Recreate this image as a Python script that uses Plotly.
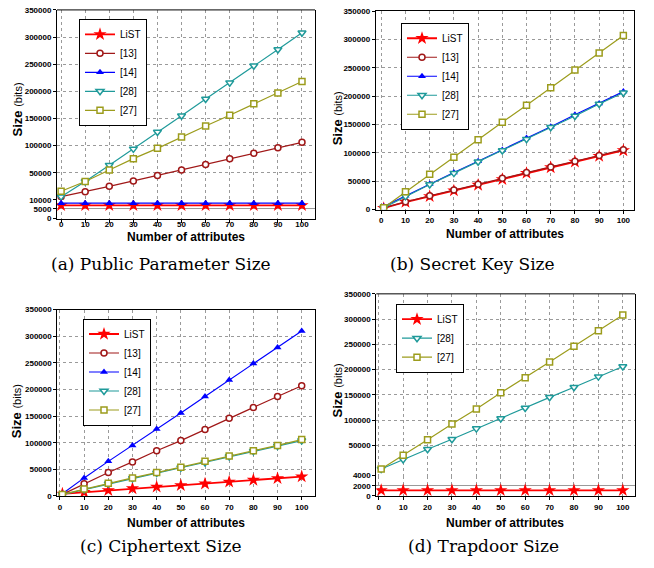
import plotly.graph_objects as go

W, H = 654, 568

# ---------------- data ----------------
attrs_a = [0, 10, 20, 30, 40, 50, 60, 70, 80, 90, 100]
attrs = [1, 10, 20, 30, 40, 50, 60, 70, 80, 90, 100]
x_ticks = [0, 10, 20, 30, 40, 50, 60, 70, 80, 90, 100]

# (a) Public Parameter Size
pp_list = [7000, 7000, 7000, 7000, 7000, 7000, 7000, 7000, 7000, 7000, 7000]
pp_13 = [6000, 15000, 25000, 35000, 45000, 55000, 65000, 76000, 86000, 96000, 106000]
pp_14 = [8200, 8200, 8200, 8200, 8200, 8200, 8200, 8200, 8200, 8200, 8200]
pp_28 = [6000, 34000, 64000, 94000, 125000, 155000, 186000, 216000, 247000, 277000, 308000]
pp_27 = [16000, 34000, 55000, 76000, 95000, 116000, 136000, 156000, 177000, 197000, 218000]

# (b) Secret Key Size
sk_list = [2000, 13000, 23000, 33000, 43000, 53000, 64000, 74000, 84000, 94000, 104000]
sk_13 = [3000, 13500, 24000, 34000, 44500, 55000, 65000, 75000, 85000, 95000, 105500]
sk_14 = [5000, 24000, 45000, 65000, 85000, 105000, 126000, 146000, 167000, 187000, 208000]
sk_28 = [3000, 23000, 44000, 64000, 84000, 104000, 124000, 145000, 165000, 186000, 206000]
sk_27 = [3000, 31000, 62000, 92000, 123000, 154000, 184000, 215000, 246000, 276000, 307000]

# (c) Ciphertext Size
ct_list = [4000, 7000, 10500, 14000, 17000, 20000, 23000, 26500, 30000, 33000, 36500]
ct_13 = [3000, 23000, 44000, 64000, 85000, 104000, 125000, 146000, 166000, 187000, 207000]
ct_14 = [4000, 34000, 65000, 95000, 126000, 156000, 187000, 218000, 249000, 279000, 310000]
ct_28 = [2500, 12000, 23000, 33000, 43000, 53000, 63000, 74000, 84000, 94000, 104000]
ct_27 = [3000, 13000, 24000, 34000, 44000, 54000, 65000, 75000, 85000, 95000, 106000]

# (d) Trapdoor Size
td_list = [1100, 1100, 1100, 1100, 1100, 1100, 1100, 1100, 1100, 1100, 1100]
td_28 = [3000, 22000, 42000, 62000, 83000, 103000, 124000, 145000, 165000, 186000, 206000]
td_27 = [3000, 30000, 61000, 92000, 122000, 154000, 184000, 215000, 246000, 277000, 308000]

upper_ticks = [50000, 100000, 150000, 200000, 250000, 300000, 350000]
full_ticks = [0, 50000, 100000, 150000, 200000, 250000, 300000, 350000]
low_ticks_a = [0, 5000, 10000]
low_ticks_d = [0, 2000, 4000]

captions = ["(a) Public Parameter Size", "(b) Secret Key Size",
            "(c) Ciphertext Size", "(d) Trapdoor Size"]

# ---------------- styles ----------------
RED = "#FF0000"
WINE = "#A01818"
BLUE = "#0000FF"
TEAL = "#1F9A9A"
OLIVE = "#9C9C1C"
SANS = "Liberation Sans, Arial, sans-serif"

def px(x):
    return x / W

def py(y):
    return 1 - y / H

def style(name):
    if name == "LiST":
        return dict(line=dict(color=RED, width=1.8),
                    marker=dict(symbol="star", size=10, color=RED, line=dict(width=0)))
    if name == "[13]":
        return dict(line=dict(color=WINE, width=1.2),
                    marker=dict(symbol="circle", size=6, color="white", line=dict(color=WINE, width=1.5)))
    if name == "[14]":
        return dict(line=dict(color=BLUE, width=1.2),
                    marker=dict(symbol="triangle-up", size=7, color=BLUE, line=dict(width=0)))
    if name == "[28]":
        return dict(line=dict(color=TEAL, width=1.2),
                    marker=dict(symbol="triangle-down", size=7, color="white", line=dict(color=TEAL, width=1.5)))
    return dict(line=dict(color=OLIVE, width=1.2),
                marker=dict(symbol="square", size=6, color="white", line=dict(color=OLIVE, width=1.5)))

fig = go.Figure()

def add(x, y, name, xa, ya, legend):
    s = style(name)
    fig.add_trace(go.Scatter(x=x, y=y, name=name, mode="lines+markers",
                             xaxis=xa, yaxis=ya, legend=legend,
                             line=s["line"], marker=s["marker"]))

# (a)
add(attrs_a, pp_list, "LiST", "x", "y", "legend")
add(attrs_a, pp_13, "[13]", "x", "y2", "legend")
add(attrs_a, pp_14, "[14]", "x", "y", "legend")
add(attrs_a, pp_28, "[28]", "x", "y2", "legend")
add(attrs_a, pp_27, "[27]", "x", "y2", "legend")
# (b)
add(attrs, sk_list, "LiST", "x2", "y3", "legend2")
add(attrs, sk_13, "[13]", "x2", "y3", "legend2")
add(attrs, sk_14, "[14]", "x2", "y3", "legend2")
add(attrs, sk_28, "[28]", "x2", "y3", "legend2")
add(attrs, sk_27, "[27]", "x2", "y3", "legend2")
# (c)
add(attrs, ct_list, "LiST", "x3", "y4", "legend3")
add(attrs, ct_13, "[13]", "x3", "y4", "legend3")
add(attrs, ct_14, "[14]", "x3", "y4", "legend3")
add(attrs, ct_28, "[28]", "x3", "y4", "legend3")
add(attrs, ct_27, "[27]", "x3", "y4", "legend3")
# (d)
add(attrs, td_list, "LiST", "x4", "y5", "legend4")
add(attrs, td_28, "[28]", "x4", "y6", "legend4")
add(attrs, td_27, "[27]", "x4", "y6", "legend4")

tickfont = dict(family=SANS, size=8, color="black", weight="bold")

def xax(dom, rng, anchor, mirror, standoff=0):
    return dict(domain=[px(dom[0]), px(dom[1])], range=rng, anchor=anchor,
                tickvals=x_ticks, ticks="outside", ticklen=3, tickcolor="black",
                ticklabelstandoff=standoff,
                showline=True, linecolor="black", linewidth=1, mirror=mirror,
                showgrid=True, gridcolor="#9a9a9a", griddash="dot", gridwidth=1,
                zeroline=False, tickfont=tickfont)

def yax(dom, rng, anchor, tv, dash):
    return dict(domain=[py(dom[0]), py(dom[1])], range=rng, anchor=anchor,
                tickvals=tv, tickformat="d", ticks="outside", ticklen=3, tickcolor="black",
                showline=True, linecolor="black", linewidth=1, mirror=True,
                showgrid=True, gridcolor="#9a9a9a", griddash=dash, gridwidth=1,
                zeroline=False, tickfont=tickfont)

layout = dict(
    width=W, height=H, margin=dict(l=0, r=0, t=0, b=0),
    paper_bgcolor="white", plot_bgcolor="white",
    xaxis=xax((57, 315), [-1.7, 105.4], "y", False, -6),
    yaxis=yax((218, 198.7), [-500, 10000], "x", low_ticks_a, "solid"),
    yaxis2=yax((198.7, 6), [0, 350000], "x", upper_ticks, "dot"),
    xaxis2=xax((375.7, 634), [-2.3, 104.4], "y3", True),
    yaxis3=yax((208.7, 7.3), [-700, 350000], "x2", full_ticks, "dot"),
    xaxis3=xax((57.3, 315), [-1.1, 105.5], "y4", True),
    yaxis4=yax((499.5, 310), [-900, 350000], "x3", full_ticks, "dot"),
    xaxis4=xax((376.3, 635), [-1, 105], "y5", False),
    yaxis5=yax((499.5, 478.3), [-100, 4000], "x4", low_ticks_d, "solid"),
    yaxis6=yax((478.3, 294), [-10000, 350000], "x4", upper_ticks, "dot"),
)

def leg(x, y):
    return dict(x=px(x), y=py(y), xanchor="left", yanchor="top",
                bgcolor="white", bordercolor="black", borderwidth=1,
                font=dict(family=SANS, size=10, color="black"),
                itemwidth=30, tracegroupgap=0)

layout["legend"] = leg(79, 15)
layout["legend2"] = leg(401, 19)
layout["legend3"] = leg(83, 319)
layout["legend4"] = leg(396, 304)
layout["showlegend"] = True
fig.update_layout(**layout)

# top borders for broken-axis panels
for xr, yr in [("x domain", "y2 domain"), ("x4 domain", "y6 domain")]:
    fig.add_shape(type="line", xref=xr, yref=yr, x0=0, x1=1, y0=1, y1=1,
                  line=dict(color="black", width=1))

ann = []
# x titles
for cx, cy in [(186, 236), (505, 233), (186, 526), (505, 526)]:
    ann.append(dict(x=px(cx), y=py(cy), xref="paper", yref="paper", showarrow=False,
                    xanchor="center", yanchor="middle",
                    text="<b>Number of attributes</b>",
                    font=dict(family=SANS, size=12, color="black")))
# y titles
for cx, cy in [(17, 107), (337, 116), (16, 413), (337, 392)]:
    ann.append(dict(x=px(cx), y=py(cy), xref="paper", yref="paper", showarrow=False,
                    xanchor="center", yanchor="middle",
                    text="<b>Size</b> <span style='font-size:11px'>(bits)</span>", textangle=-90,
                    font=dict(family=SANS, size=13, color="black")))
# captions
for (cx, cy), t in zip([(161, 264), (472, 264), (160, 550), (483, 550)], captions):
    ann.append(dict(x=px(cx), y=py(cy), xref="paper", yref="paper", showarrow=False,
                    xanchor="center", yanchor="middle",
                    text=t, font=dict(family="DejaVu Serif, serif", size=17, color="black")))
fig.update_layout(annotations=ann)

fig.write_html("out.html", config={"displayModeBar": False},
               post_script="document.body.style.margin='0px';")
